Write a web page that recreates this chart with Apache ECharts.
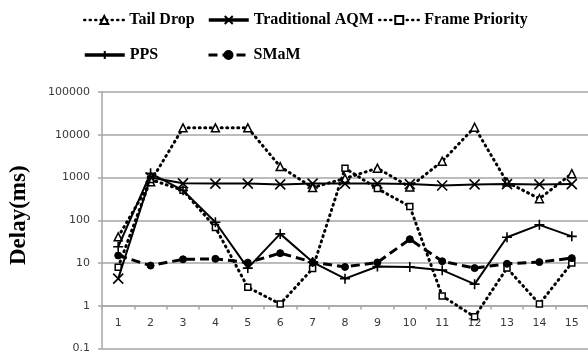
<!DOCTYPE html>
<html>
<head>
<meta charset="utf-8">
<script src="https://cdn.jsdelivr.net/npm/echarts@6/dist/echarts.min.js"></script>
<style>
html,body{margin:0;padding:0;background:#fff;}
#chart{width:588px;height:354px;}
</style>
</head>
<body>
<div id="chart"></div>
<script>
const categories = ['1','2','3','4','5','6','7','8','9','10','11','12','13','14','15'];
const tailDrop      = [41, 800, 14500, 14500, 14500, 1800, 580, 950, 1650, 600, 2400, 15000, 780, 320, 1230];
const tradAQM       = [4.3, 1000, 730, 720, 720, 690, 720, 720, 720, 700, 650, 690, 700, 690, 700];
const framePriority = [8, 900, 500, 68, 2.7, 1.1, 7.4, 1650, 550, 210, 1.7, 0.55, 7.6, 1.1, 10];
const pps           = [24, 1250, 500, 90, 7.6, 48, 10.5, 4.3, 8.3, 8.1, 6.8, 3.2, 40, 78, 42];
const smam          = [15, 8.7, 12.2, 12.5, 10.2, 17, 10.5, 8.1, 10.3, 36, 11, 7.6, 9.6, 10.5, 13];
const yTickLabels   = ['0.1','1','10','100','1000','10000','100000'];
const yAxisName = 'Delay(ms)';

const chart = echarts.init(document.getElementById('chart'), null, {renderer:'canvas'});

const legendText = {fontFamily:'Liberation Serif', fontWeight:'bold', fontSize:16, color:'#000', lineHeight:20};
function leg(name, left, top, lw){
  return {data:[name], left:left, top:top, padding:0, itemWidth:40, itemHeight:10, itemGap:4,
    textStyle:legendText, selectedMode:false, lineStyle:{width:lw}};
}
const dotted = {color:'#000', width:3, type:[1,4.5], cap:'round'};
const dashed = {color:'#000', width:3, type:[9,5]};
const solid  = {color:'#000', width:2};

const xPath = 'path://M0,0L10,10M10,0L0,10';
const plusPath = 'path://M5,0L5,10M0,5L10,5';

chart.setOption({
  backgroundColor:'#fff',
  animation:false,
  legend:[
    leg('Tail Drop', 83, 10, 2.5),
    leg('Traditional AQM', 207, 10, 3.5),
    leg('Frame Priority', 378, 10, 2.5),
    leg('PPS', 83, 45, 3.5),
    leg('SMaM', 207, 45, 3)
  ],
  grid:{left:99, top:92, width:491, height:257, containLabel:false},
  xAxis:{
    type:'category', data:categories, boundaryGap:true, position:'bottom', offset:-43,
    axisLine:{show:true, lineStyle:{color:'#a6a6a6', width:1.5}},
    axisTick:{show:true, length:4, lineStyle:{color:'#a6a6a6', width:1.5}},
    axisLabel:{fontFamily:'DejaVu Sans', fontSize:11, color:'#3a3a3a', margin:12},
    splitLine:{show:false}
  },
  yAxis:{
    type:'log', logBase:10, min:0.1, max:100000, interval:1,
    name:yAxisName, nameLocation:'middle', nameRotate:90, nameGap:71,
    nameTextStyle:{fontFamily:'Liberation Serif', fontWeight:'bold', fontSize:23, color:'#000', padding:[0,0,0,10]},
    axisLine:{show:true, lineStyle:{color:'#a6a6a6', width:1.5}},
    axisTick:{show:true, length:4, lineStyle:{color:'#a6a6a6', width:1.5}},
    axisLabel:{fontFamily:'DejaVu Sans', fontSize:11, color:'#3a3a3a', margin:12,
      formatter:function(v){
        const e = Math.round(Math.log10(v));
        return yTickLabels[e+1] !== undefined ? yTickLabels[e+1] : String(v);
      }},
    splitLine:{show:true, lineStyle:{color:'#a6a6a6', width:1.5}}
  },
  series:[
    {name:'Tail Drop', type:'line', data:tailDrop, symbol:'triangle', symbolSize:8,
      itemStyle:{color:'#fff', borderColor:'#000', borderWidth:1.5}, lineStyle:dotted, z:3},
    {name:'Traditional AQM', type:'line', data:tradAQM, symbol:xPath, symbolSize:10,
      itemStyle:{color:'#000', borderColor:'#000', borderWidth:1.6}, lineStyle:solid, z:4},
    {name:'Frame Priority', type:'line', data:framePriority, symbol:'rect', symbolSize:6,
      itemStyle:{color:'#fff', borderColor:'#000', borderWidth:1.5}, lineStyle:dotted, z:3},
    {name:'PPS', type:'line', data:pps, symbol:plusPath, symbolSize:10,
      itemStyle:{color:'#000', borderColor:'#000', borderWidth:1.6}, lineStyle:solid, z:4},
    {name:'SMaM', type:'line', data:smam, symbol:'circle', symbolSize:7,
      itemStyle:{color:'#000', borderColor:'#000', borderWidth:1}, lineStyle:dashed, z:3}
  ]
});
</script>
</body>
</html>
